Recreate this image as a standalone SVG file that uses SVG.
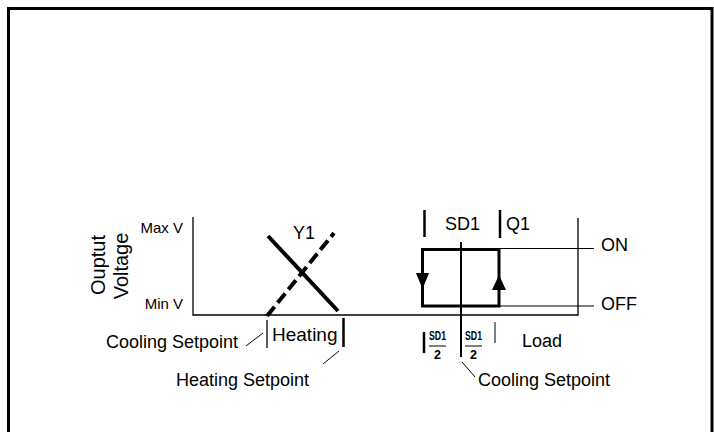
<svg xmlns="http://www.w3.org/2000/svg" width="714" height="432" viewBox="0 0 714 432">
<style>
text{font-family:"Liberation Sans",Arial,sans-serif;fill:#000}
.t18{font-size:18px}
.t15{font-size:15px}
.t20{font-size:20px}
.sm{font-size:12.5px;font-weight:bold}
.thin{stroke:#000;stroke-width:1;fill:none}
.ax{stroke:#000;stroke-width:1.3;fill:none}
.tk{stroke:#000;stroke-width:2.5;fill:none}
.bold{stroke:#000;stroke-width:4;fill:none}
</style>
<rect x="0" y="0" width="714" height="432" fill="#fff"/>
<rect id="frame" x="8.5" y="8.5" width="703.5" height="440" fill="none" stroke="#000" stroke-width="3"/>
<g id="axes">
<path class="ax" d="M193,217 V315 H578 V218"/>
<text class="t15" x="183" y="233" text-anchor="end">Max V</text>
<text class="t15" x="183" y="309" text-anchor="end">Min V</text>
<text class="t20" transform="translate(105,265) rotate(-90)" text-anchor="middle">Ouptut</text>
<text class="t20" transform="translate(128,266) rotate(-90)" text-anchor="middle">Voltage</text>
</g>
<g id="y1">
<line class="bold" x1="268" y1="236" x2="338" y2="311"/>
<line class="bold" x1="267" y1="316" x2="334" y2="233" stroke-dasharray="12 5"/>
<text class="t18" x="293" y="239">Y1</text>
</g>
<g id="heating">
<line class="ax" x1="267" y1="320" x2="267" y2="348"/>
<line class="tk" x1="343.5" y1="318" x2="343.5" y2="347"/>
<text class="t18" x="272" y="341" style="font-size:19px">Heating</text>
<text class="t18" x="238" y="348" text-anchor="end">Cooling Setpoint</text>
<line class="thin" x1="246" y1="346" x2="263" y2="333"/>
<text class="t18" x="176" y="386">Heating Setpoint</text>
<line class="thin" x1="323" y1="364" x2="339" y2="351"/>
</g>
<g id="q1">
<line class="tk" x1="424.5" y1="210" x2="424.5" y2="237"/>
<line class="tk" x1="500" y1="210" x2="500" y2="238"/>
<text class="t18" x="445" y="230">SD1</text>
<text class="t18" x="506" y="230">Q1</text>
<rect x="422.5" y="249.5" width="76.5" height="56.5" fill="none" stroke="#000" stroke-width="3"/>
<polygon points="416,273 429,273 422.5,289" fill="#000"/>
<polygon points="499,275 492,290 506,290" fill="#000"/>
<line x1="461" y1="242" x2="461" y2="357" stroke="#000" stroke-width="2"/>
<line class="thin" x1="486" y1="248.5" x2="594" y2="248.5"/>
<line class="thin" x1="499" y1="306" x2="594" y2="306"/>
<text class="t18" x="601" y="251">ON</text>
<text class="t18" x="601" y="310">OFF</text>
<text class="t18" x="522" y="347">Load</text>
</g>
<g id="deadband">
<line class="tk" x1="424" y1="332" x2="424" y2="353"/>
<line class="thin" x1="495" y1="322" x2="495" y2="343"/>
<text class="sm" x="429" y="340" textLength="17" lengthAdjust="spacingAndGlyphs">SD1</text>
<line class="thin" x1="429" y1="346" x2="446" y2="346"/>
<text class="sm" x="437.5" y="359" text-anchor="middle">2</text>
<text class="sm" x="465" y="340" textLength="17" lengthAdjust="spacingAndGlyphs">SD1</text>
<line class="thin" x1="465" y1="346" x2="482" y2="346"/>
<text class="sm" x="473.5" y="359" text-anchor="middle">2</text>
<line class="thin" x1="462" y1="362" x2="475" y2="377"/>
<text class="t18" x="478" y="386">Cooling Setpoint</text>
</g>
</svg>
